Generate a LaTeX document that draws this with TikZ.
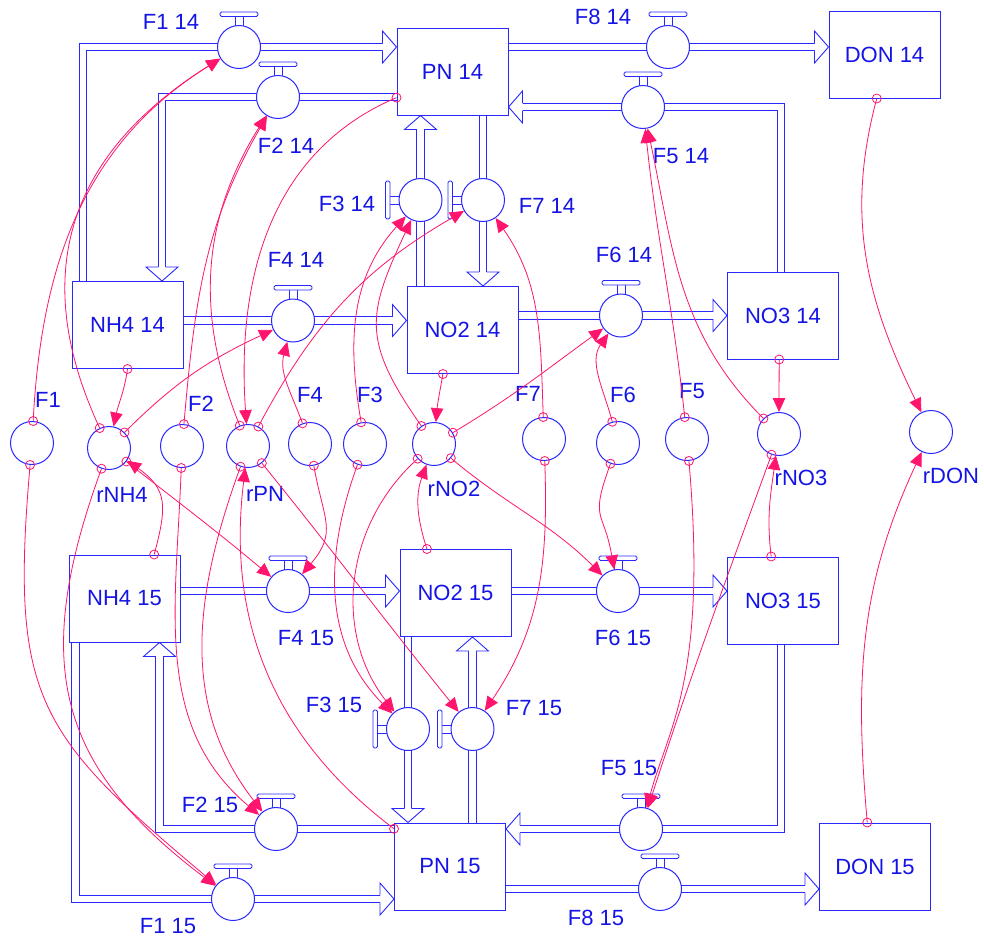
\documentclass[tikz,border=0pt]{standalone}
\usepackage{fontspec}
\setmainfont{Liberation Sans}
\usetikzlibrary{arrows.meta,calc}
\definecolor{pblue}{RGB}{40,40,255}
\definecolor{tblue}{RGB}{20,20,230}
\definecolor{cpink}{RGB}{255,20,110}
\newcommand\lblfont{\fontsize{22pt}{26pt}\selectfont}
\pgfdeclarelayer{bg}
\pgfsetlayers{bg,main}
\begin{document}
\begin{tikzpicture}[x=1pt,y=-1pt,
  pipe/.style={draw=pblue,line width=0.9pt,double=white,double distance=6.4pt,shorten >=14pt},
  stock/.style={draw=pblue,line width=1pt,fill=white,minimum width=111pt,minimum height=87pt,inner sep=0pt,text=tblue,font=\lblfont},
  valve/.style={draw=pblue,line width=1pt,fill=white,circle,minimum size=43pt,inner sep=0pt},
  aux/.style={draw=pblue,line width=1pt,fill=white,circle,minimum size=43pt,inner sep=0pt},
  lbl/.style={text=tblue,anchor=base,inner sep=0pt,font=\lblfont},
  conn/.style={draw=cpink,line width=0.8pt,-{Triangle[length=14pt,width=12.5pt]}},
  sc/.style={draw=cpink,line width=0.8pt,circle,inner sep=0pt,minimum size=9pt},
  parrow/.pic={\filldraw[draw=pblue,fill=white,line width=0.9pt] (-14,3.65) -- (-14,16) -- (0,0) -- (-14,-16) -- (-14,-3.65);},
  vhandle/.pic={\filldraw[draw=pblue,fill=white,line width=0.9pt] (-4,-31) rectangle (4,-18);
     \filldraw[draw=pblue,fill=white,line width=0.9pt,rounded corners=1.5pt] (-19,-35) rectangle (19,-30.5);}
]
\useasboundingbox (0,0) rectangle (984,940);
\begin{pgfonlayer}{bg}
\fill[white] (0,0) rectangle (984,940);
\end{pgfonlayer}

% stocks
\node[stock] (PN14) at (452.5,71.5) {PN 14};
\node[stock] (DON14) at (884.5,54.5) {DON 14};
\node[stock] (NH414) at (127.5,325) {NH4 14};
\node[stock] (NO214) at (462.5,330) {NO2 14};
\node[stock] (NO314) at (783,315.5) {NO3 14};
\node[stock] (NH415) at (124.5,598.5) {NH4 15};
\node[stock] (NO215) at (455.5,593) {NO2 15};
\node[stock] (NO315) at (783,600.5) {NO3 15};
\node[stock] (PN15) at (450,866.5) {PN 15};
\node[stock] (DON15) at (875,866.5) {DON 15};

% valve handles
\pic at (239,47) {vhandle};
\pic at (278,97) {vhandle};
\pic[rotate=90] at (420.5,200) {vhandle};
\pic[rotate=90] at (483,200) {vhandle};
\pic at (668,47) {vhandle};
\pic at (643,107) {vhandle};
\pic at (293,320.5) {vhandle};
\pic at (621,315.5) {vhandle};
\pic at (288,591) {vhandle};
\pic at (618,591) {vhandle};
\pic[rotate=90] at (408,729) {vhandle};
\pic[rotate=90] at (472.5,729) {vhandle};
\pic at (276,829) {vhandle};
\pic at (233,899) {vhandle};
\pic at (641,829) {vhandle};
\pic at (660,889) {vhandle};

% valves
\node[valve] (v1a) at (239,47) {};
\node[valve] (v2a) at (278,97) {};
\node[valve] (v3a) at (420.5,200) {};
\node[valve] (v7a) at (483,200) {};
\node[valve] (v8a) at (668,47) {};
\node[valve] (v5a) at (643,107) {};
\node[valve] (v4a) at (293,320.5) {};
\node[valve] (v6a) at (621,315.5) {};
\node[valve] (v4b) at (288,591) {};
\node[valve] (v6b) at (618,591) {};
\node[valve] (v3b) at (408,729) {};
\node[valve] (v7b) at (472.5,729) {};
\node[valve] (v2b) at (276,829) {};
\node[valve] (v1b) at (233,899) {};
\node[valve] (v5b) at (641,829) {};
\node[valve] (v8b) at (660,889) {};

% auxiliaries
\node[aux] (aF1) at (32,443) {};
\node[aux] (rNH4) at (109,448) {};
\node[aux] (aF2) at (182,446) {};
\node[aux] (rPN) at (248,446) {};
\node[aux] (aF4) at (310,444) {};
\node[aux] (aF3) at (365,444) {};
\node[aux] (rNO2) at (434,444) {};
\node[aux] (aF7) at (544,439) {};
\node[aux] (aF6) at (618,443) {};
\node[aux] (aF5) at (687,439) {};
\node[aux] (rNO3) at (779,434) {};
\node[aux] (rDON) at (931,432) {};

% pipe corners
\coordinate (k1a) at (83,47);
\coordinate (k2a) at (162,97);
\coordinate (k5a) at (781,107);
\coordinate (k2b) at (159.5,829);
\coordinate (k1b) at (75.5,899);
\coordinate (k5b) at (781,829);

\begin{pgfonlayer}{bg}
\draw[pipe] (NH414.north -| k1a) -- (k1a) -- (PN14.west |- k1a);
\pic at (PN14.west |- k1a) {parrow};
\draw[pipe] (PN14.west |- v2a) -- (k2a) -- (NH414.north -| k2a);
\pic[rotate=-90] at (NH414.north -| k2a) {parrow};
\draw[pipe] (NO214.north -| v3a) -- (PN14.south -| v3a);
\pic[rotate=90] at (PN14.south -| v3a) {parrow};
\draw[pipe] (PN14.south -| v7a) -- (NO214.north -| v7a);
\pic[rotate=-90] at (NO214.north -| v7a) {parrow};
\draw[pipe] (PN14.east |- v8a) -- (DON14.west |- v8a);
\pic at (DON14.west |- v8a) {parrow};
\draw[pipe] (NO314.north -| k5a) -- (k5a) -- (PN14.east |- k5a);
\pic[rotate=180] at (PN14.east |- k5a) {parrow};
\draw[pipe] (NH414.east |- v4a) -- (NO214.west |- v4a);
\pic at (NO214.west |- v4a) {parrow};
\draw[pipe] (NO214.east |- v6a) -- (NO314.west |- v6a);
\pic at (NO314.west |- v6a) {parrow};
\draw[pipe] (NH415.east |- v4b) -- (NO215.west |- v4b);
\pic at (NO215.west |- v4b) {parrow};
\draw[pipe] (NO215.east |- v6b) -- (NO315.west |- v6b);
\pic at (NO315.west |- v6b) {parrow};
\draw[pipe] (NO215.south -| v3b) -- (PN15.north -| v3b);
\pic[rotate=-90] at (PN15.north -| v3b) {parrow};
\draw[pipe] (PN15.north -| v7b) -- (NO215.south -| v7b);
\pic[rotate=90] at (NO215.south -| v7b) {parrow};
\draw[pipe] (PN15.west |- k2b) -- (k2b) -- (NH415.south -| k2b);
\pic[rotate=90] at (NH415.south -| k2b) {parrow};
\draw[pipe] (NH415.south -| k1b) -- (k1b) -- (PN15.west |- k1b);
\pic at (PN15.west |- k1b) {parrow};
\draw[pipe] (NO315.south -| k5b) -- (k5b) -- (PN15.east |- k5b);
\pic[rotate=180] at (PN15.east |- k5b) {parrow};
\draw[pipe] (PN15.east |- v8b) -- (DON15.west |- v8b);
\pic at (DON15.west |- v8b) {parrow};
\end{pgfonlayer}

% labels
\node[lbl] (t1a) at (171,29) {F1 14};
\node[lbl] (t2a) at (286,153) {F2 14};
\node[lbl] (t3a) at (347,211) {F3 14};
\node[lbl] (t4a) at (296,267) {F4 14};
\node[lbl] (t8a) at (603,24) {F8 14};
\node[lbl] (t5a) at (681,163) {F5 14};
\node[lbl] (t7a) at (547,213) {F7 14};
\node[lbl] (t6a) at (624,262) {F6 14};
\node[lbl] (tF1) at (48,407) {F1};
\node[lbl] (trNH4) at (122,502) {rNH4};
\node[lbl] (tF2) at (201,411) {F2};
\node[lbl] (trPN) at (265,501) {rPN};
\node[lbl] (tF4) at (310,402) {F4};
\node[lbl] (tF3) at (370,402) {F3};
\node[lbl] (trNO2) at (454,496) {rNO2};
\node[lbl] (tF7) at (528,401) {F7};
\node[lbl] (tF6) at (623,402) {F6};
\node[lbl] (tF5) at (692,398) {F5};
\node[lbl] (trNO3) at (801,485) {rNO3};
\node[lbl] (trDON) at (951,483) {rDON};
\node[lbl] (t4b) at (306,645) {F4 15};
\node[lbl] (t6b) at (623,645) {F6 15};
\node[lbl] (t3b) at (334,712) {F3 15};
\node[lbl] (t7b) at (534,715) {F7 15};
\node[lbl] (t2b) at (210,812) {F2 15};
\node[lbl] (t5b) at (629,775) {F5 15};
\node[lbl] (t1b) at (168,933) {F1 15};
\node[lbl] (t8b) at (596,925) {F8 15};

% connectors
\draw[conn] (aF1) to[out=87,in=212] node[pos=0,sc]{} (v1a);
\draw[conn] (rNH4) to[out=115,in=212,looseness=1.15] node[pos=0,sc]{} (v1a);
\draw[conn] (aF1) to[out=265,in=140,looseness=1.3] node[pos=0,sc]{} (v1b);
\draw[conn] (rNH4) to[out=250,in=143,looseness=1.2] node[pos=0,sc]{} (v1b);
\draw[conn] (aF2) to[out=85,in=240] node[pos=0,sc]{} (v2a);
\draw[conn] (rPN) to[out=112,in=238] node[pos=0,sc]{} (v2a);
\draw[conn] (aF2) to[out=268,in=140] node[pos=0,sc]{} (v2b);
\draw[conn] (rPN) to[out=250,in=128] node[pos=0,sc]{} (v2b);
\draw[conn] (rNH4) to[out=45,in=205] node[pos=0,sc]{} (v4a);
\draw[conn] (aF4) to[out=110,in=255] node[pos=0,sc]{} (v4a);
\draw[conn] (rPN) to[out=62,in=210] node[pos=0,sc]{} (v7a);
\draw[conn] (rNO2) to[out=125,in=245,looseness=1.3] node[pos=0,sc]{} (v3a);
\draw[conn] (aF3) to[out=100,in=228] node[pos=0,sc]{} (v3a);
\draw[conn] (aF7) to[out=92,in=305] node[pos=0,sc]{} (v7a);
\draw[conn] (aF6) to[out=105,in=235] node[pos=0,sc]{} (v6a);
\draw[conn] (rNO2) to[out=31,in=216] node[pos=0,sc]{} (v6a);
\draw[conn] (aF5) to[out=96,in=276] node[pos=0,sc]{} (v5a);
\draw[conn] (rNO3) to[out=135,in=282] node[pos=0,sc]{} (v5a);
\draw[conn] (NO314.265) to[out=270,in=90] node[pos=0,sc]{} (rNO3);
\draw[conn] (DON14.260) to[out=255,in=116] node[pos=0,sc]{} (rDON);
\draw[conn] (DON15.100) to[out=95,in=245] node[pos=0,sc]{} (rDON);
\draw[conn] (NO315.105) to[out=97,in=262] node[pos=0,sc]{} (rNO3);
\draw[conn] (rNO3) to[out=250,in=72] node[pos=0,sc]{} (v5b);
\draw[conn] (aF5) to[out=275,in=75,out looseness=1.6,in looseness=0.6] node[pos=0,sc]{} (v5b);
\draw[conn] (aF6) to[out=250,in=100,looseness=1.5] node[pos=0,sc]{} (v6b);
\draw[conn] (rNO2) to[out=320,in=135] node[pos=0,sc]{} (v6b);
\draw[conn] (NO214.246) to[out=260,in=85] node[pos=0,sc]{} (rNO2);
\draw[conn] (NO215.123) to[out=108,in=250] node[pos=0,sc]{} (rNO2);
\draw[conn] (rNO2) to[out=222,in=128] node[pos=0,sc]{} (v3b);
\draw[conn] (aF3) to[out=250,in=135] node[pos=0,sc]{} (v3b);
\draw[conn] (aF4) to[out=280,in=50,looseness=1.3] node[pos=0,sc]{} (v4b);
\draw[conn] (rNH4) to[out=322,in=140] node[pos=0,sc]{} (v4b);
\draw[conn] (NH415.56) to[out=75,in=325,looseness=1.3] node[pos=0,sc]{} (rNH4);
\draw[conn] (NH414.south) to[out=262,in=78] node[pos=0,sc]{} (rNH4);
\draw[conn] (PN14.205) to[out=203,in=94] node[pos=0,sc]{} (rPN);
\draw[conn] (PN15.146) to[out=143,in=263] node[pos=0,sc]{} (rPN);
\draw[conn] (rPN) to[out=309,in=129] node[pos=0,sc]{} (v7b);
\draw[conn] (aF7) to[out=272,in=56] node[pos=0,sc]{} (v7b);
\end{tikzpicture}
\end{document}
